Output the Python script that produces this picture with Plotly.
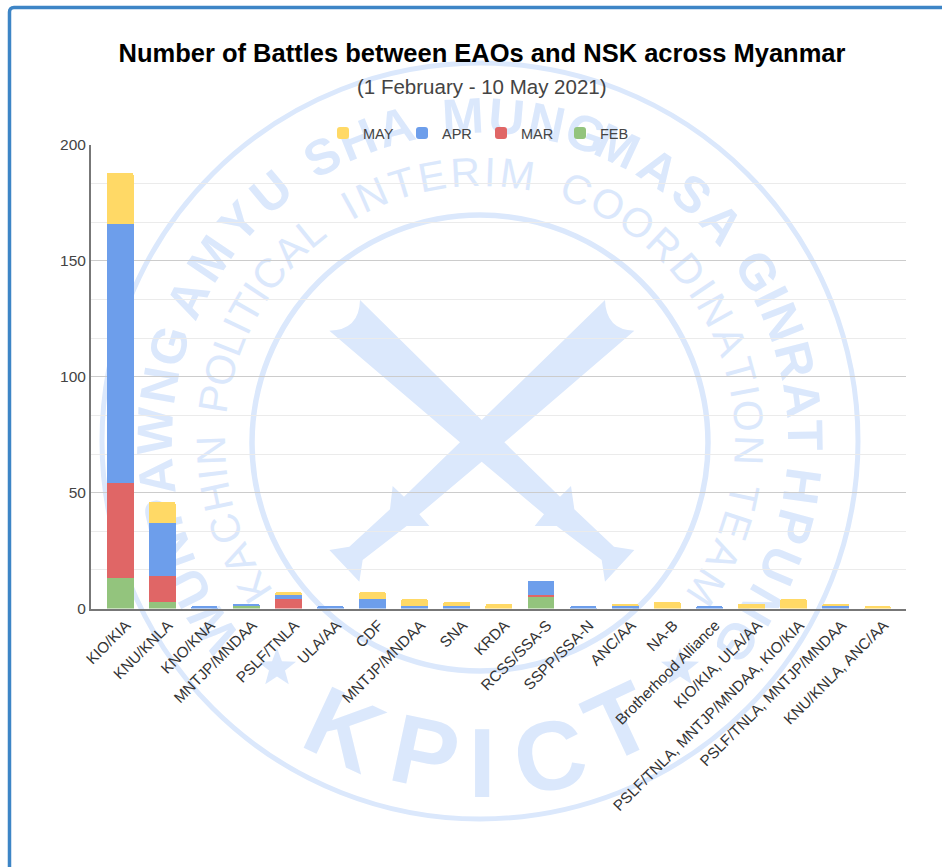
import math
import plotly.graph_objects as go

W, H = 942, 867

categories = ["KIO/KIA", "KNU/KNLA", "KNO/KNA", "MNTJP/MNDAA", "PSLF/TNLA", "ULA/AA", "CDF",
              "MNTJP/MNDAA", "SNA", "KRDA", "RCSS/SSA-S", "SSPP/SSA-N", "ANC/AA", "NA-B",
              "Brotherhood Alliance", "KIO/KIA, ULA/AA", "PSLF/TNLA, MNTJP/MNDAA, KIO/KIA",
              "PSLF/TNLA, MNTJP/MNDAA", "KNU/KNLA, ANC/AA"]
feb = [13, 3, 0, 1, 0, 0, 0, 0, 0, 0, 5, 0, 0, 0, 0, 0, 0, 0, 0]
mar = [41, 11, 0, 0, 4, 0, 0, 0, 0, 0, 1, 0, 0, 0, 0, 0, 0, 0, 0]
apr = [112, 23, 1, 1, 2, 1, 4, 1, 1, 0, 6, 1, 1, 0, 1, 0, 0, 1, 0]
may = [22, 9, 0, 0, 1, 0, 3, 3, 2, 2, 0, 0, 1, 3, 0, 2, 4, 1, 1]

WM_SOLID = "#dbe8fc"


def px(x):
    return x / W


def py(y):
    return 1 - y / H


x = list(range(len(categories)))
fig = go.Figure()
for name, vals, col in [("FEB", feb, "#93c47d"), ("MAR", mar, "#e06666"),
                        ("APR", apr, "#6d9eeb"), ("MAY", may, "#ffd966")]:
    fig.add_bar(x=x, y=vals, name=name, marker=dict(color=col, line=dict(width=0)))

annotations = [dict(text="(1 February - 10 May 2021)", xref="paper", yref="paper",
                    x=px(482), y=py(87), showarrow=False, yanchor="middle",
                    font=dict(family="Liberation Sans", size=20.5, color="#444444"))]
letter_shapes = []


def letter(c, cx, cy, ang, size, bold):
    letter_shapes.append(dict(
        type="rect", xref="paper", yref="paper", layer="below",
        x0=px(cx - 1), x1=px(cx + 1), y0=py(cy + 1), y1=py(cy - 1),
        line=dict(width=0), fillcolor="rgba(0,0,0,0)",
        label=dict(text=f"<b>{c}</b>" if bold else c, textangle=ang,
                   textposition="middle center", xanchor="center", yanchor="middle", padding=0,
                   font=dict(family="Liberation Sans", size=size, color=WM_SOLID))))


def arc_word(word, start, end, r, size, bold):
    widths = {"I": .3, "M": .85, "W": .95, "A": .72, "S": .67, "T": .62, "L": .58, "E": .66, "P": .66}
    w = [widths.get(c, .74) for c in word]
    centres = []
    run = 0
    for v in w:
        centres.append(run + v / 2)
        run += v
    first, last = centres[0], centres[-1]
    for c, pos in zip(word, centres):
        t = (pos - first) / (last - first)
        th = start + (end - start) * t
        rad = math.radians(th)
        letter(c, 480 + r * math.sin(rad), 441 - r * math.cos(rad), th, size, bold)


outer_words = [("WUNPAWNG", -125, -73), ("AMYU", -64, -40), ("SHA", -29, -15),
               ("MUNG", -3, 19), ("MASA", 25, 48), ("GINRAT", 58.6, 89), ("HPUNG", 98, 128)]
inner_words = [("KACHIN", -123, -92), ("POLITICAL", -81, -39), ("INTERIM", -29, 8),
               ("COORDINATION", 21, 92), ("TEAM", 102, 123)]
for wd, a, b in outer_words:
    arc_word(wd, a, b, 330, 50, True)
for wd, a, b in inner_words:
    arc_word(wd, a, b, 273, 41, False)

for c, cx, cy, ang in [("K", 348, 721, 25), ("P", 427, 744, 12), ("I", 482, 754, 0),
                       ("C", 548, 747, -12), ("T", 615, 714, -25)]:
    letter(c, cx, cy, ang, 98, True)


def pt(a, b):
    return f"{px(240 + a / 3):.5f},{py(280 + b / 3):.5f}"


def sword_path():
    p = [(268, 152), (660, 487), (492, 650), (458, 618), (450, 688), (328, 800), (268, 810),
         (358, 905), (368, 840), (500, 738), (568, 738), (538, 703), (725, 545), (912, 703),
         (884, 738), (950, 738), (1085, 840), (1095, 905), (1183, 810), (1122, 800), (1003, 688),
         (993, 618), (960, 650), (793, 487), (1183, 152)]
    s = f"M{pt(360, 60)} Q{pt(358, 150)} {pt(268, 152)} "
    s += " ".join("L" + pt(*q) for q in p[1:])
    s += f" Q{pt(1098, 150)} {pt(1095, 60)} L{pt(725, 420)} Z"
    return s


def star_path(cx, cy, R):
    s = []
    for i in range(10):
        r = R if i % 2 == 0 else R * 0.42
        a = math.radians(36 * i)
        s.append(f"{px(cx + r * math.sin(a)):.5f},{py(cy - r * math.cos(a)):.5f}")
    return "M" + " L".join(s) + " Z"


def circle(cx, cy, r, lw):
    return dict(type="circle", xref="paper", yref="paper", layer="below",
                x0=px(cx - r), x1=px(cx + r), y0=py(cy + r), y1=py(cy - r),
                line=dict(color=WM_SOLID, width=lw), fillcolor="rgba(0,0,0,0)")


def filled(path):
    return dict(type="path", xref="paper", yref="paper", layer="below", path=path,
                fillcolor=WM_SOLID, line=dict(width=0))


border = (f"M{px(9.5):.5f},{py(867):.5f} L{px(9.5):.5f},{py(12):.5f} "
          f"Q{px(9.5):.5f},{py(7.5):.5f} {px(14):.5f},{py(7.5):.5f} L{px(942):.5f},{py(7.5):.5f}")

shapes = [circle(480, 441, 378, 5), circle(480, 443, 228, 5.5),
          filled(sword_path()), filled(star_path(277, 668, 20)), filled(star_path(680, 668, 20)),
          dict(type="path", xref="paper", yref="paper", layer="below", path=border,
               line=dict(color="#3d85c6", width=3.5))] + letter_shapes

n = len(categories)
fig.update_layout(
    width=W, height=H, autosize=False,
    margin=dict(l=0, r=0, t=0, b=0),
    paper_bgcolor="white", plot_bgcolor="rgba(0,0,0,0)",
    barmode="stack", bargap=0.36, barcornerradius=2,
    title=dict(text="<b>Number of Battles between EAOs and NSK across Myanmar</b>",
               x=px(482), xanchor="center", y=py(53), yanchor="middle",
               font=dict(family="Liberation Sans", size=25.5, color="#000000")),
    font=dict(family="Liberation Sans", color="#444444", size=13.3),
    xaxis=dict(domain=[px(91), px(906)], range=[-0.69, n - 1 + 0.67],
               tickmode="array", tickvals=x, ticktext=categories, tickangle=-45,
               ticklabelshift=6,
               tickfont=dict(size=15.2, color="#333333"), showgrid=False, ticks="", zeroline=False,
               showline=True, linecolor="#777777", linewidth=2, automargin=False),
    yaxis=dict(domain=[py(608.5), py(145)], range=[0, 200], tick0=0, dtick=50,
               tickfont=dict(size=15.5, color="#444444"), gridcolor="#cccccc", gridwidth=1,
               ticks="", zeroline=False, showline=True, linecolor="#777777", linewidth=2,
               minor=dict(tick0=0, dtick=50 / 3, showgrid=True, gridcolor="#ebebeb", gridwidth=1),
               automargin=False),
    legend=dict(orientation="h", traceorder="reversed", x=px(323), xanchor="left",
                y=py(133), yanchor="middle", entrywidth=34, entrywidthmode="pixels",
                bgcolor="rgba(0,0,0,0)", font=dict(size=14.5, color="#444444")),
    shapes=shapes, annotations=annotations, showlegend=True,
)
fig.write_html("out.html", config={"displayModeBar": False},
               post_script="document.body.style.margin='0';")
